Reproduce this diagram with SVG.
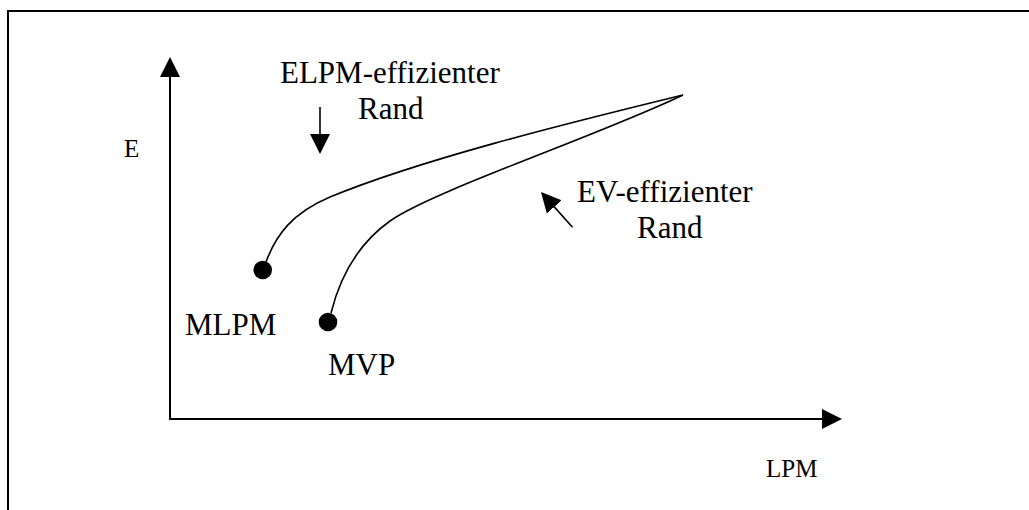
<svg xmlns="http://www.w3.org/2000/svg" width="1029" height="510" viewBox="0 0 1029 510">
<style>
text{font-family:'Liberation Serif',serif;fill:#000}
.big{font-size:31px}
.small{font-size:25px}
.ax{stroke:#000;stroke-width:2;fill:none}
.cv{stroke:#000;stroke-width:1.6;fill:none}
.ar{stroke:#000;stroke-width:1.6;fill:none}
.dot{fill:#000}
</style>
<defs>
<marker id="head" viewBox="0 0 20 20" markerUnits="userSpaceOnUse" markerWidth="20" markerHeight="20" refX="0" refY="10" orient="auto">
<path d="M0,0 L20,10 L0,20 z" fill="#000"/>
</marker>
</defs>
<rect id="frame" x="8" y="11" width="1040" height="520" fill="none" stroke="#000" stroke-width="2"/>
<g id="axes">
<line class="ax" x1="170" y1="420" x2="170" y2="77" marker-end="url(#head)"/>
<line class="ax" x1="169" y1="419" x2="822" y2="419" marker-end="url(#head)"/>
<text class="small" font-family="Liberation Serif" x="124" y="157">E</text>
<text class="small" font-family="Liberation Serif" x="766" y="477">LPM</text>
</g>
<g id="curve-elpm">
<path class="cv" d="M266,262 C276,235 292,213 330,197 C420,160 560,125 683,95"/>
</g>
<g id="curve-ev">
<path class="cv" d="M331,313 C338,285 352,248 390,221 C432,191 600,135 683,95"/>
</g>
<g id="node-mlpm">
<circle class="dot" cx="262.7" cy="270" r="9.3"/>
<text class="big" font-family="Liberation Serif" x="185" y="335">MLPM</text>
</g>
<g id="node-mvp">
<circle class="dot" cx="328" cy="322" r="9.3"/>
<text class="big" font-family="Liberation Serif" x="328" y="375">MVP</text>
</g>
<g id="label-elpm">
<text class="big" font-family="Liberation Serif" x="280" y="83">ELPM-effizienter</text>
<text class="big" font-family="Liberation Serif" x="358" y="119">Rand</text>
</g>
<g id="label-ev">
<text class="big" font-family="Liberation Serif" x="577" y="202">EV-effizienter</text>
<text class="big" font-family="Liberation Serif" x="637" y="238">Rand</text>
</g>
<g id="connectors">
<line class="ar" x1="320" y1="107" x2="320" y2="134" marker-end="url(#head)"/>
<line class="ar" x1="572.5" y1="227.3" x2="554.3" y2="206.9" marker-end="url(#head)"/>
</g>
</svg>
